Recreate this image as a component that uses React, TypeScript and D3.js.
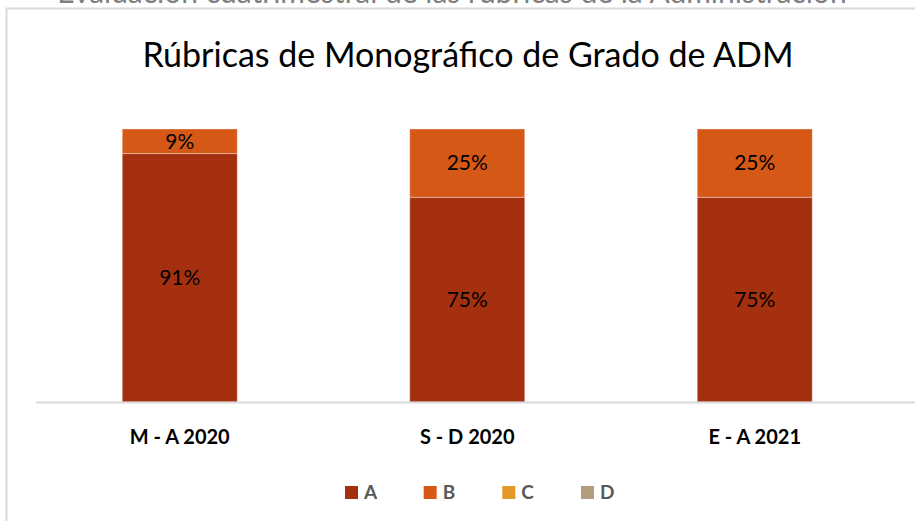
import React, { useEffect, useRef } from 'react';
import * as d3 from 'd3';

const categories = ['M - A 2020', 'S - D 2020', 'E - A 2021'];
const seriesNames = ['A', 'B', 'C', 'D'];
const seriesA = [0.91, 0.75, 0.75];
const seriesB = [0.09, 0.25, 0.25];
const seriesC = [0, 0, 0];
const seriesD = [0, 0, 0];
const colors = ['#A5300F', '#D55816', '#E19825', '#B19C7D'];

const W = 915;
const H = 521;
const FONT = 'Lato, "Open Sans", sans-serif';

function App() {
  const svgRef = useRef<SVGSVGElement | null>(null);

  useEffect(() => {
    const svg = d3.select(svgRef.current);
    svg.selectAll('*').remove();

    const rows = categories.map((c, i) => ({
      cat: c,
      A: seriesA[i],
      B: seriesB[i],
      C: seriesC[i],
      D: seriesD[i],
    }));

    const x = d3.scaleBand<string>()
      .domain(categories)
      .range([36, 898.5])
      .paddingInner(0.6)
      .paddingOuter(0.3);

    const y = d3.scaleLinear().domain([0, 1]).range([402, 129]);

    const color = d3.scaleOrdinal<string, string>().domain(seriesNames).range(colors);

    svg.append('rect').attr('width', W).attr('height', H).attr('fill', '#fff');

    // text of the page above, mostly cut off (as in the source)
    svg.append('text')
      .attr('x', 452)
      .attr('y', 3)
      .attr('text-anchor', 'middle')
      .attr('font-family', FONT)
      .attr('font-size', 30)
      .attr('fill', '#7f7f7f')
      .text('Evaluación cuatrimestral de las rúbricas de la Administración');

    // chart frame
    svg.append('path')
      .attr('d', `M6.5,${H} V8.5 H${W}`)
      .attr('fill', 'none')
      .attr('stroke', '#d9d9d9')
      .attr('stroke-width', 2);

    svg.append('text')
      .attr('x', 468)
      .attr('y', 67)
      .attr('text-anchor', 'middle')
      .attr('font-family', FONT)
      .attr('font-size', 34)
      .attr('fill', '#000')
      .text('Rúbricas de Monográfico de Grado de ADM');

    const stack = d3.stack<any>().keys(seriesNames);
    const layers = stack(rows);

    const g = svg.append('g');
    layers.forEach((layer) => {
      g.selectAll(null)
        .data(layer)
        .enter()
        .append('rect')
        .attr('x', (d: any) => x(d.data.cat) as number)
        .attr('width', x.bandwidth())
        .attr('y', (d) => y(d[1]))
        .attr('height', (d) => y(d[0]) - y(d[1]))
        .attr('fill', color(layer.key))
        .attr('stroke', '#fff')
        .attr('stroke-opacity', 0.35)
        .attr('stroke-width', (d) => (d[1] - d[0] > 0 ? 1 : 0));

      g.selectAll(null)
        .data(layer.filter((d) => d[1] - d[0] > 0))
        .enter()
        .append('text')
        .attr('x', (d: any) => (x(d.data.cat) as number) + x.bandwidth() / 2)
        .attr('y', (d) => (y(d[0]) + y(d[1])) / 2)
        .attr('dy', '0.35em')
        .attr('text-anchor', 'middle')
        .attr('font-family', FONT)
        .attr('font-size', 21)
        .attr('fill', '#000')
        .text((d) => d3.format('.0%')(d[1] - d[0]));
    });

    // category axis
    svg.append('line')
      .attr('x1', 36)
      .attr('x2', W)
      .attr('y1', 402.5)
      .attr('y2', 402.5)
      .attr('stroke', '#d9d9d9')
      .attr('stroke-width', 2);

    svg.selectAll('.cat')
      .data(categories)
      .enter()
      .append('text')
      .attr('x', (d) => (x(d) as number) + x.bandwidth() / 2)
      .attr('y', 444)
      .attr('text-anchor', 'middle')
      .attr('font-family', FONT)
      .attr('font-weight', 'bold')
      .attr('font-size', 20)
      .attr('fill', '#000')
      .text((d) => d);

    // legend
    const legendX = d3.scalePoint<string>().domain(seriesNames).range([345, 581]);
    const lg = svg.append('g');
    seriesNames.forEach((s) => {
      lg.append('rect')
        .attr('x', legendX(s) as number)
        .attr('y', 486)
        .attr('width', 13)
        .attr('height', 13)
        .attr('fill', color(s));
      lg.append('text')
        .attr('x', (legendX(s) as number) + 19)
        .attr('y', 499)
        .attr('font-family', FONT)
        .attr('font-weight', 'bold')
        .attr('font-size', 19)
        .attr('fill', '#595959')
        .text(s);
    });
  }, []);

  return (
    <svg
      ref={svgRef}
      width={W}
      height={H}
      style={{ position: 'absolute', left: 0, top: 0 }}
    ></svg>
  );
}

export default App;
